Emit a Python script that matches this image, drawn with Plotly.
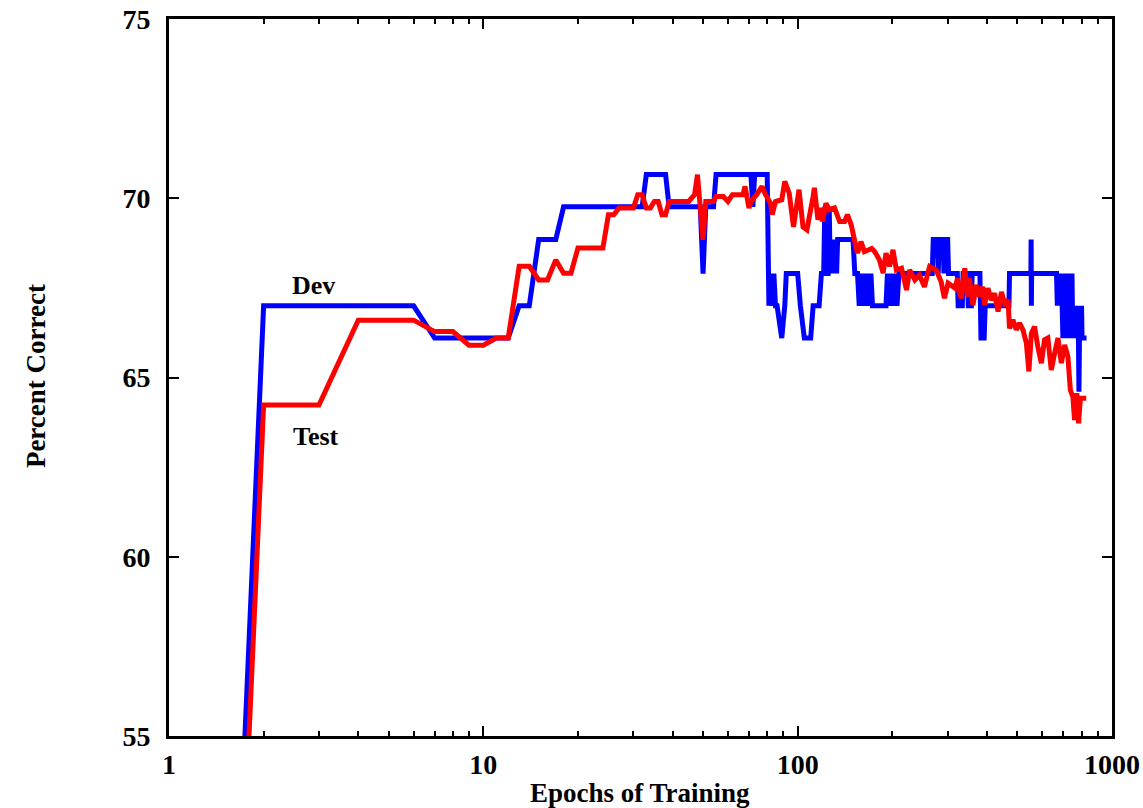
import plotly.graph_objects as go

# Dev-set accuracy by training epoch
dev_epochs = [1, 2, 6, 7, 12, 13, 14, 15, 17, 18, 32, 33, 38, 39, 49, 50, 51, 54, 55, 71, 72, 73, 80,
              81, 82, 83, 84, 85, 86, 89, 91, 92, 100, 102, 105, 110, 112, 117, 119, 121, 122, 123,
              125, 126, 127, 128, 129, 130, 131, 132, 133, 134, 150, 152, 155, 157, 159, 161, 163,
              165, 167, 169, 171, 173, 191, 193, 195, 197, 199, 201, 203, 205, 207, 210, 268, 270,
              278, 280, 282, 290, 292, 294, 300, 302, 322, 324, 334, 336, 347, 349, 357, 359, 380,
              383, 392, 395, 470, 472, 552, 553, 554, 555, 666, 670, 674, 678, 682, 686, 690, 694,
              698, 702, 706, 710, 714, 718, 722, 726, 730, 734, 738, 742, 746, 750, 754, 758, 762,
              766, 770, 774, 778, 782, 785, 788, 792, 796, 800, 803, 830]
dev_pct = [6.3, 67.0, 67.0, 66.1, 66.1, 67.0, 67.0, 68.85, 68.85, 69.76, 69.76, 70.66, 70.66, 69.76,
           69.76, 67.9, 69.76, 69.76, 70.66, 70.66, 69.76, 70.66, 70.66,
           67.0, 67.9, 67.0, 67.9, 67.0, 67.0, 66.1, 67.0, 67.9, 67.9, 67.0, 66.1, 66.1, 67.0, 67.0,
           67.9, 67.9, 69.76, 67.9,
           67.9, 69.76, 67.9, 68.85, 67.9, 68.85, 67.9, 68.85, 67.9, 68.85, 68.85, 67.9, 67.9, 67.0,
           67.9, 67.0, 67.9,
           67.0, 67.9, 67.0, 67.9, 67.0, 67.0, 67.9, 67.0, 67.9, 67.0, 67.9, 67.0, 67.9, 67.0, 67.9,
           67.9, 68.85,
           68.85, 67.9, 68.85, 68.85, 67.9, 68.85, 68.85, 67.9, 67.9, 67.0, 67.0, 67.9, 67.9, 67.0,
           67.0, 67.9, 67.9,
           66.1, 66.1, 67.0, 67.0, 67.9, 67.9, 68.85, 67.0, 67.9, 67.9, 67.0, 67.9, 67.0, 67.9, 67.0,
           67.9, 67.0,
           66.1, 67.9, 67.0, 66.1, 67.9, 67.0, 66.1, 67.9, 66.1, 67.9, 67.0, 66.1, 67.9, 66.1, 67.0,
           66.1, 67.0,
           66.1, 67.0, 66.1, 67.0, 66.1, 64.6, 66.1, 67.0, 66.1, 67.0, 66.1, 66.1]

# Test-set accuracy by training epoch
test_epochs = [1, 2, 3, 4, 6, 7, 8, 9, 10, 11, 12, 13, 14, 15, 16, 17, 18, 19, 20, 24, 25, 26, 27,
               30, 31, 32, 33, 34, 35, 36, 37, 38, 39, 45, 47, 48, 50, 51, 54, 55, 58, 60, 62, 67,
               68, 70, 71, 74, 77, 79, 82, 83, 85, 89, 91, 94, 97, 101, 104, 107, 112, 113, 116,
               119, 120, 123, 126, 131, 136, 141, 144, 148, 152, 155, 159, 163, 172, 176, 182, 187,
               191, 196, 201, 206, 214, 222, 227, 236, 244, 253, 263, 276, 286, 293, 301, 316, 323,
               327, 332, 340, 348, 352, 361, 370, 379, 388, 393, 403, 413, 423, 434, 445, 455, 467,
               472, 484, 496, 508, 521, 534, 544, 554, 567, 581, 596, 610, 625, 641, 657, 673, 690,
               707, 724, 737, 751, 760, 773, 783, 793, 828]
test_pct = [4.5, 64.23, 64.23, 66.6, 66.6, 66.28, 66.28, 65.9, 65.9, 66.1, 66.1, 68.1, 68.1, 67.72,
            67.72, 68.28, 67.91, 67.91, 68.61, 68.61, 69.54, 69.54, 69.73,
            69.73, 70.1, 70.1, 69.73, 69.73, 69.91, 69.91, 69.54, 69.54, 69.91, 69.91, 70.1, 70.66,
            68.84, 69.91, 69.91, 70.05, 70.05, 69.91, 70.1, 70.1,
            70.33, 69.73, 69.91, 70.1, 70.33, 70.1, 69.86, 69.54, 69.91, 69.96, 70.47, 70.14, 69.2,
            70.24, 69.2, 69.12, 70.05, 70.29, 69.4,
            69.73, 69.35, 69.86, 69.68, 69.73, 69.35, 69.35, 69.54, 69.26, 68.79, 68.47, 68.79,
            68.51, 68.6, 68.51, 68.28, 67.91,
            68.47, 68.1, 68.56, 68.0, 68.05, 67.44, 68.0, 67.72, 67.86, 67.53, 68.1, 68.0, 67.67,
            67.21, 67.63, 67.5, 67.77,
            67.35, 67.21, 68.05, 67.26, 67.77, 67.02, 67.58, 67.26, 67.53, 67.02, 67.49, 67.16,
            67.35, 66.84, 67.39, 67.07, 67.16,
            66.37, 66.61, 66.33, 66.52, 66.33, 65.96, 65.17, 66.23, 66.42, 65.86, 65.40, 66.05,
            66.1, 65.21, 65.68, 66.1, 65.40,
            65.91, 65.58, 64.65, 64.46, 63.81, 64.56, 63.72, 64.42, 64.42]

x_tick_vals = [1, 10, 100, 1000]
x_tick_text = ["1", "10", "100", "1000"]
x_minor_vals = [m * d for d in (1, 10, 100) for m in range(2, 10)]
y_tick_vals = [55, 60, 65, 70, 75]

FONT = "Liberation Serif, Times New Roman, serif"
BOLD = lambda size: dict(family=FONT, size=size, color="black", weight="bold")

fig = go.Figure()
fig.add_trace(go.Scatter(
    x=dev_epochs, y=dev_pct, mode="lines", name="Dev",
    line=dict(color="#0000ff", width=5, simplify=False),
))
fig.add_trace(go.Scatter(
    x=test_epochs, y=test_pct, mode="lines", name="Test",
    line=dict(color="#ff0000", width=5, simplify=False),
))

# curve labels
fig.add_annotation(x=0.4607, y=67.56, text="Dev", showarrow=False, font=BOLD(26))
fig.add_annotation(x=0.468, y=63.35, text="Test", showarrow=False, font=BOLD(26))

# axis titles
fig.add_annotation(xref="paper", yref="paper", x=0.499, y=-0.079,
                   text="Epochs of Training", showarrow=False, font=BOLD(27),
                   xanchor="center", yanchor="middle")
fig.add_annotation(xref="paper", yref="paper", x=-0.141, y=0.502,
                   text="Percent Correct", showarrow=False, font=BOLD(27),
                   textangle=-90, xanchor="center", yanchor="middle")

fig.update_layout(
    width=1143, height=808,
    margin=dict(l=169, r=31, t=19, b=72),
    paper_bgcolor="white", plot_bgcolor="white",
    showlegend=False,
    font=dict(family=FONT, color="black"),
)
fig.update_xaxes(
    type="log", range=[0, 3], automargin=False,
    tickmode="array", tickvals=x_tick_vals, ticktext=x_tick_text,
    ticks="inside", ticklen=10, tickwidth=2, tickcolor="black",
    minor=dict(tickmode="array", tickvals=x_minor_vals, ticks="inside",
               ticklen=5, tickwidth=2, tickcolor="black", showgrid=False),
    showline=True, linewidth=3, linecolor="black", mirror="allticks",
    showgrid=False, zeroline=False,
    ticklabelstandoff=1,
    tickfont=BOLD(28),
)
fig.update_yaxes(
    range=[55, 75], automargin=False,
    tickmode="array", tickvals=y_tick_vals,
    ticks="inside", ticklen=10, tickwidth=2, tickcolor="black",
    showline=True, linewidth=3, linecolor="black", mirror="allticks",
    showgrid=False, zeroline=False,
    ticklabelstandoff=10,
    tickfont=BOLD(28),
)

fig.write_html("out.html")
